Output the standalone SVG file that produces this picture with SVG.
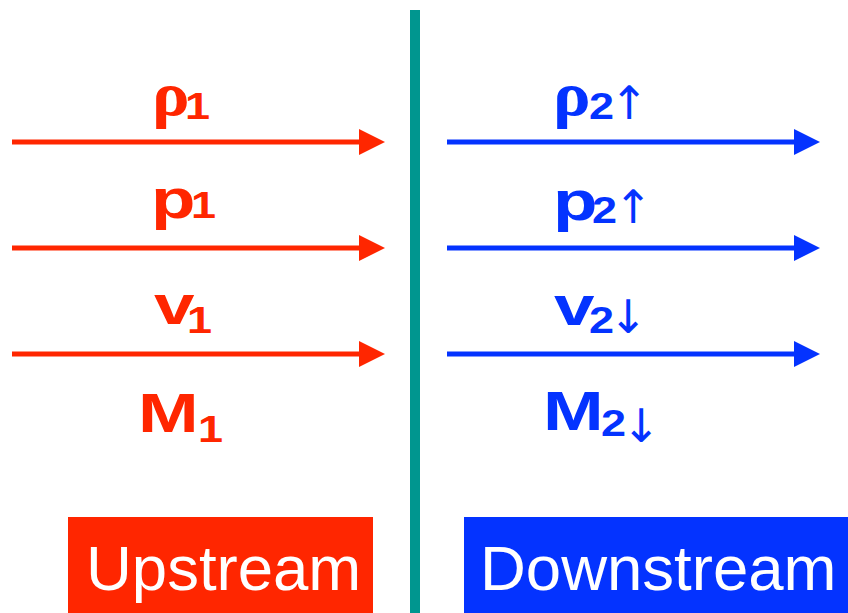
<svg xmlns="http://www.w3.org/2000/svg" width="848" height="613" viewBox="0 0 848 613">
  <defs>
    <marker id="headRed" markerUnits="userSpaceOnUse" markerWidth="26" markerHeight="26" refX="0" refY="13" orient="auto" viewBox="0 0 26 26">
      <path d="M0,0 L26,13 L0,26 Z" fill="#ff2600"/>
    </marker>
    <marker id="headBlue" markerUnits="userSpaceOnUse" markerWidth="26" markerHeight="26" refX="0" refY="13" orient="auto" viewBox="0 0 26 26">
      <path d="M0,0 L26,13 L0,26 Z" fill="#0433ff"/>
    </marker>
  </defs>
  <style>
    .lbl { font-family: "Liberation Sans", Arial, sans-serif; font-weight: bold; }
    .greek { font-family: "Liberation Serif", "Times New Roman", serif; font-weight: bold; font-size: 64px; }
    .main { font-size: 56px; }
    .sub { font-size: 36px; }
    .arr { font-family: "DejaVu Sans", sans-serif; font-size: 46px; }
    .red { fill: #ff2600; }
    .blue { fill: #0433ff; }
    .box { font-family: "Liberation Sans", Arial, sans-serif; font-size: 63.5px; fill: #ffffff; }
    .lineRed { stroke: #ff2600; stroke-width: 5; fill: none; }
    .lineBlue { stroke: #0433ff; stroke-width: 5; fill: none; }
  </style>
  <rect width="848" height="613" fill="#ffffff"/>

  <!-- shock front -->
  <g id="shock">
    <rect x="410" y="10" width="10" height="603" fill="#00968f"/>
  </g>

  <!-- flow arrows -->
  <g id="connectors">
    <line class="lineRed" x1="12" y1="142" x2="359" y2="142" marker-end="url(#headRed)"/>
    <line class="lineRed" x1="12" y1="248" x2="359" y2="248" marker-end="url(#headRed)"/>
    <line class="lineRed" x1="12" y1="354" x2="359" y2="354" marker-end="url(#headRed)"/>
    <line class="lineBlue" x1="447" y1="142" x2="794" y2="142" marker-end="url(#headBlue)"/>
    <line class="lineBlue" x1="447" y1="248" x2="794" y2="248" marker-end="url(#headBlue)"/>
    <line class="lineBlue" x1="447" y1="354" x2="794" y2="354" marker-end="url(#headBlue)"/>
  </g>

  <!-- upstream quantities -->
  <g id="rho1" class="red">
    <text class="greek" transform="translate(152,115) scale(1.1,1)">ρ</text>
    <text class="lbl sub" transform="translate(185,119) scale(1.25,1)">1</text>
  </g>
  <g id="p1" class="red">
    <text class="lbl main" transform="translate(151,218) scale(1.3,1)">p</text>
    <text class="lbl sub" transform="translate(191,218) scale(1.25,1)">1</text>
  </g>
  <g id="v1" class="red">
    <text class="lbl main" transform="translate(154,324) scale(1.3,1)">v</text>
    <text class="lbl sub" transform="translate(187,333) scale(1.25,1)">1</text>
  </g>
  <g id="M1" class="red">
    <text class="lbl main" transform="translate(138,432) scale(1.3,1)">M</text>
    <text class="lbl sub" transform="translate(198,442) scale(1.25,1)">1</text>
  </g>

  <!-- downstream quantities -->
  <g id="rho2" class="blue">
    <text class="greek" transform="translate(553,115) scale(1.1,1)">ρ</text>
    <text class="lbl sub" transform="translate(589,119) scale(1.25,1)">2</text>
    <text class="arr" x="610" y="119">↑</text>
  </g>
  <g id="p2" class="blue">
    <text class="lbl main" transform="translate(553,220) scale(1.3,1)">p</text>
    <text class="lbl sub" transform="translate(592,223) scale(1.25,1)">2</text>
    <text class="arr" x="614" y="223">↑</text>
  </g>
  <g id="v2" class="blue">
    <text class="lbl main" transform="translate(554,325) scale(1.3,1)">v</text>
    <text class="lbl sub" transform="translate(589,333) scale(1.25,1)">2</text>
    <text class="arr" x="609" y="333">↓</text>
  </g>
  <g id="M2" class="blue">
    <text class="lbl main" transform="translate(543,430) scale(1.3,1)">M</text>
    <text class="lbl sub" transform="translate(601,436) scale(1.25,1)">2</text>
    <text class="arr" x="622" y="442">↓</text>
  </g>

  <!-- region tags -->
  <g id="upstream">
    <rect x="68" y="517" width="305" height="96" fill="#ff2600"/>
    <text class="box" x="86" y="590">Upstream</text>
  </g>
  <g id="downstream">
    <rect x="464" y="517" width="384" height="96" fill="#0433ff"/>
    <text class="box" x="480" y="590">Downstream</text>
  </g>
</svg>
